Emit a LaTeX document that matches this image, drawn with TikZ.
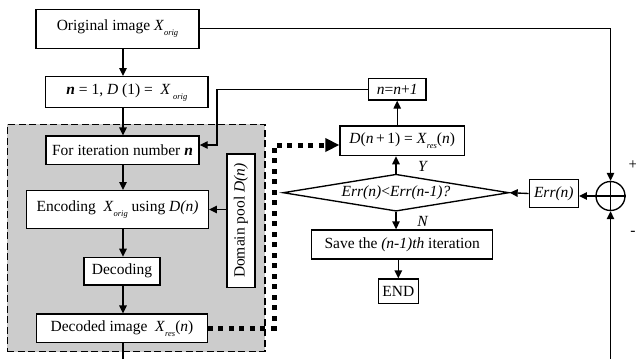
\documentclass[tikz,border=0pt]{standalone}
\usepackage{fontspec}
\setmainfont{Liberation Serif}
\usetikzlibrary{arrows.meta,shapes.geometric}
\newcommand\sbs[1]{\raisebox{-5pt}{\fontsize{8.5}{9}\selectfont\itshape #1}}
\begin{document}
\begin{tikzpicture}[x=1pt,y=-1pt,
  font=\fontsize{15.5}{18}\selectfont,
  box/.style={draw, line width=1.35pt, fill=white, inner sep=0pt, align=center},
  ln/.style={line width=1.35pt},
  arr/.style={line width=1.35pt, -{Triangle[length=8pt,width=7.5pt]}},
  dotarr/.style={line width=5pt, dash pattern=on 5pt off 5.5pt, -{Triangle[length=14pt,width=13pt]}},
  grp/.style={draw, fill=black!20, line width=1.35pt, dash pattern=on 7pt off 3.5pt, inner sep=0pt}]
\path[use as bounding box] (0,0) rectangle (636,359);
% group background
\node[grp, minimum width=257.7pt, minimum height=227.4pt] (grp) at (136.15,238) {};
% left column
\node[box, minimum width=163pt, minimum height=39pt] (b1) at (117.5,28.7) {Original image \textit{X}\sbs{orig}};
\node[box, minimum width=162.3pt, minimum height=31pt] (b2) at (126.9,92.2) {\textbf{\textit{n}} = 1, \textit{D} (1) = \ \textit{X}\,\sbs{orig}};
\node[box, minimum width=153pt, minimum height=28.3pt] (b3) at (122.5,150.2) {For iteration number \textbf{\textit{n}}};
\node[box, minimum width=181.6pt, minimum height=37.6pt] (b4) at (117.5,209.5) {Encoding \ \textit{X}\sbs{orig} using \textit{D(n)}};
\node[box, minimum width=76pt, minimum height=27.7pt] (b5) at (122,271.2) {Decoding};
\node[box, minimum width=170.6pt, minimum height=28.3pt] (b6) at (122,328.2) {Decoded image \ \textit{X}\sbs{res}(\textit{n})};
\node[box, rotate=90, minimum width=133.3pt, minimum height=28pt] (dp) at (241,220.7) {Domain pool \textit{D(n)}};
% right column
\node[box, minimum width=57.7pt, minimum height=21.7pt] (nn) at (397.2,89.2) {\textit{n}=\textit{n}+\textit{1}};
\node[box, minimum width=124.3pt, minimum height=29.7pt] (dn) at (402.2,140.8) {\textit{D}(\textit{n}\,+\,1) = \textit{X}\sbs{res}(\textit{n})};
\node[box, diamond, aspect=6.1, minimum width=226pt, minimum height=37pt] (dm) at (396,192.7) {\textit{Err(n)}<\textit{Err(n-1)?}};
\node[box, minimum width=49pt, minimum height=28.4pt] (er) at (553.8,193.5) {\textit{Err(n)}};
\node[draw, circle, line width=1.35pt, minimum size=29pt, inner sep=0pt] (ci) at (610.5,196) {};
\draw[ln] (ci.north) -- (ci.south) (ci.west) -- (ci.east);
\node[box, minimum width=181pt, minimum height=29pt] (sv) at (402.2,244.5) {Save the \textit{(n-1)th} iteration};
\node[box, minimum width=40pt, minimum height=24.3pt] (en) at (398.3,291.2) {END};
% labels
\node (ly) at (423,166.5) {\textit{Y}};
\node (lnn) at (423,221.5) {\textit{N}};
\node (lp) at (633,165) {+};
\node (lm) at (633,233) {-};
% helper coordinates
\coordinate (spine) at (123,0);
\coordinate (fb) at (217,145);
\coordinate (dc) at (274,145);
\coordinate (bl) at (123,359);
\coordinate (br) at (610.5,359);
% connectors
\draw[arr] (b1.south -| spine) -- (b2.north -| spine);
\draw[arr] (b2.south -| spine) -- (b3.north -| spine);
\draw[arr] (b3.south -| spine) -- (b4.north -| spine);
\draw[arr] (b4.south -| spine) -- (b5.north -| spine);
\draw[arr] (b5.south -| spine) -- (b6.north -| spine);
\draw[ln] (b6.south -| spine) -- (bl);
\draw[arr] (dp.north |- b4.east) -- (b4.east);
\draw[arr] (nn.west) -| (fb) -- (fb -| b3.east);
\draw[dotarr] (b6.east) -| (dc) -- (dc -| dn.west);
\draw[arr] (dn.north -| nn.south) -- (nn.south);
\draw[arr] (dm.north) -- (dm.north |- dn.south);
\draw[arr] (dm.south) -- (dm.south |- sv.north);
\draw[arr] (sv.south -| en.north) -- (en.north);
\draw[arr] (er.west) -- (dm.east);
\draw[arr] (ci.west) -- (ci.west -| er.east);
\draw[arr] (b1.east) -| (ci.north);
\draw[arr] (br) -- (ci.south);
\end{tikzpicture}
\end{document}
